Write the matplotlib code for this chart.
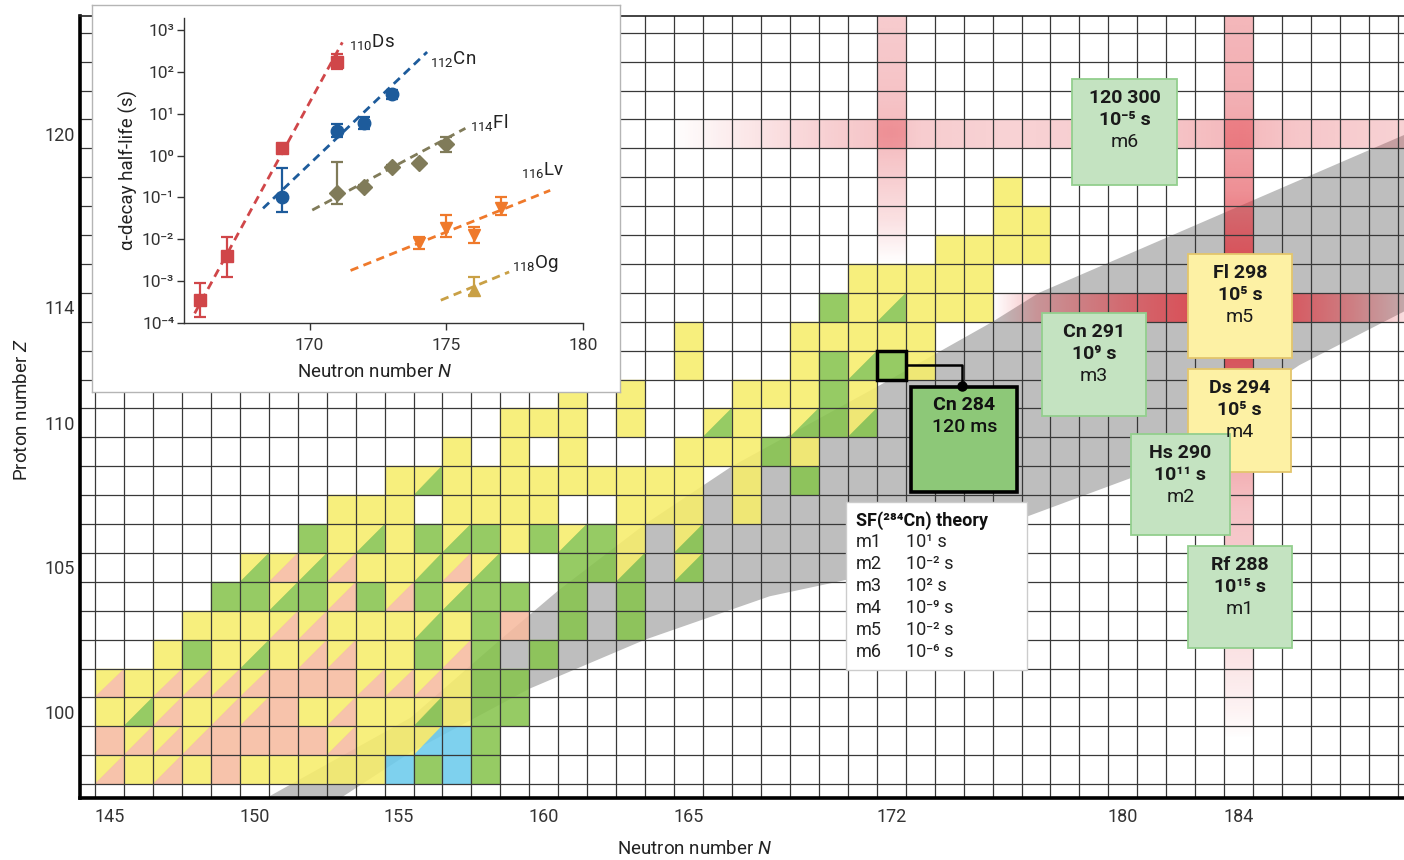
import numpy as np
import matplotlib
matplotlib.use('Agg')
import matplotlib.pyplot as plt
from matplotlib.patches import Rectangle
from matplotlib.collections import PolyCollection

plt.rcParams['font.family'] = ['Roboto', 'DejaVu Sans']
plt.rcParams['mathtext.fontset'] = 'custom'
plt.rcParams['mathtext.rm'] = 'Roboto'
plt.rcParams['mathtext.it'] = 'Roboto:italic'
plt.rcParams['mathtext.bf'] = 'Roboto:bold'

###----------------------------------###
### DATA                             ###
###----------------------------------###

# decay mode of each nuclide, row by row (Z), starting at N = row_start[Z]
# Y alpha, G spontaneous fission, S EC/beta+, B beta-, two letters = split cell, '.' = none
row_start = {98: 145, 99: 145, 100: 145, 101: 145, 102: 147, 103: 148, 104: 149,
             105: 150, 106: 152, 107: 153, 108: 155, 109: 157, 110: 159, 111: 161,
             112: 165, 113: 165, 114: 170, 115: 171, 116: 174, 117: 176, 118: 176}
row_modes = {
    98: 'YS Y YS Y S Y Y Y Y Y B G B G',
    99: 'S YS YS YS S S S S YS Y Y YB B G',
    100: 'Y YG YS Y YS YS S Y YS Y Y YG Y G G',
    101: 'YS Y YS YS YS YS S S S YS YS YS Y G G',
    102: 'Y G Y YG Y YS YS Y Y G YS G . G',
    103: 'Y Y Y YS YS Y Y Y YG Y G S . G . G',
    104: 'G G YG G YS G YS G YG G G . G . G',
    105: 'YG YS YG YS Y Y YG YS YG . . G G YG . YG',
    106: 'G Y YG Y G YG G Y G YG G Y . YG',
    107: 'Y Y Y . Y Y Y Y . . Y Y Y . Y',
    108: 'Y YG Y Y Y Y Y Y Y Y Y . Y . G',
    109: 'Y . Y . Y . . . Y Y Y G Y',
    110: 'Y Y Y . Y . . YG Y . YG G YG',
    111: 'Y . Y . . . Y Y Y G Y',
    112: 'Y . . . Y G YG G Y',
    113: 'Y . . . Y Y Y Y Y',
    114: 'G Y YG Y Y Y',
    115: 'Y Y Y Y Y',
    116: 'Y Y Y Y',
    117: 'Y Y',
    118: 'Y',
}

# grey band of predicted nuclei (edges in N, Z)
band_upper_N = [150.2, 155.4, 158.5, 160.5, 163.5, 166.5, 171.6, 175.5, 177.1, 189.8]
band_upper_Z = [96.9, 99.8, 102.5, 104.2, 106.5, 108.5, 111.3, 113.5, 114.5, 120.0]
band_lower_N = [152.8, 155.4, 159.5, 163.5, 167.8, 170.6, 176.8, 180.3, 186.1, 189.8]
band_lower_Z = [96.9, 98.6, 100.8, 102.5, 104.0, 104.6, 106.8, 108.1, 112.0, 113.9]

# predicted nuclei boxes
box_names = ['Rf 288', 'Ds 294', 'Hs 290', 'Cn 291', 'Fl 298', '120 300']
box_exps = [15, 5, 11, 9, 5, -5]
box_models = ['m1', 'm4', 'm2', 'm3', 'm5', 'm6']
box_kinds = ['G', 'Y', 'G', 'G', 'Y', 'G']

# SF(284Cn) theory
sf_models = ['m1', 'm2', 'm3', 'm4', 'm5', 'm6']
sf_exps = [1, -2, 2, -9, -2, -6]

# inset: alpha-decay half-lives (s)
ds_N = [166, 167, 169, 171]
ds_T = [3.5e-4, 4.0e-3, 1.5, 175]
ds_hi = [9.1e-4, 1.12e-2, 1.5, 275]
ds_lo = [1.4e-4, 1.23e-3, 1.5, 120]
cn_N = [169, 171, 172, 173]
cn_T = [0.10, 3.9, 6.0, 29]
cn_hi = [0.51, 5.6, 8.3, 38]
cn_lo = [0.046, 2.8, 4.3, 22]
fl_N = [171, 172, 173, 174, 175]
fl_T = [0.13, 0.18, 0.54, 0.65, 1.9]
fl_hi = [0.70, 0.20, 0.60, 0.70, 2.8]
fl_lo = [0.07, 0.16, 0.50, 0.60, 1.25]
lv_N = [174, 175, 176, 177]
lv_T = [0.008, 0.019, 0.0126, 0.057]
lv_hi = [0.0112, 0.038, 0.020, 0.10]
lv_lo = [0.006, 0.0112, 0.0083, 0.038]
og_N = [176]
og_T = [6.1e-4]
og_hi = [1.26e-3]
og_lo = [4.7e-4]

# dashed trend lines (end points)
ds_fit_N, ds_fit_T = [165.8, 171.2], [1.7e-4, 510]
cn_fit_N, cn_fit_T = [168.3, 174.3], [0.055, 300]
fl_fit_N, fl_fit_T = [170.1, 175.7], [0.050, 4.5]
lv_fit_N, lv_fit_T = [171.5, 178.8], [1.8e-3, 0.148]
og_fit_N, og_fit_T = [174.8, 177.3], [3.5e-4, 1.66e-3]

SUP = str.maketrans('0123456789-', '⁰¹²³⁴⁵⁶⁷⁸⁹⁻')

colors = {'Y': '#f7ed6b', 'G': '#88c44f', 'S': '#f6bba0', 'B': '#6ccbec'}
red = np.array([0.88, 0.20, 0.24])

###----------------------------------###
### MAIN CHART                       ###
###----------------------------------###

fig = plt.figure(figsize=(14.04, 8.6), dpi=100)
ax = fig.add_axes([80/1404, 62/860, 1324/1404, 782/860])
ax.set_xlim(143.98, 189.71)
ax.set_ylim(97.02, 124.08)

# grey band first, cells drawn over it slightly transparent
ax.fill(np.r_[band_upper_N, band_lower_N[::-1]], np.r_[band_upper_Z, band_lower_Z[::-1]],
        color='#bebebe', lw=0, zorder=1)

polys, faces = [], []
for z in row_modes:
    for i, m in enumerate(row_modes[z].split()):
        if m == '.':
            continue
        n = row_start[z] + i
        x0, x1, y0, y1 = n - 0.5, n + 0.5, z - 0.5, z + 0.5
        if len(m) == 1:
            polys.append([(x0, y0), (x1, y0), (x1, y1), (x0, y1)])
            faces.append(colors[m])
        else:
            polys.append([(x0, y0), (x0, y1), (x1, y1)])
            faces.append(colors[m[0]])
            polys.append([(x0, y0), (x1, y0), (x1, y1)])
            faces.append(colors[m[1]])
ax.add_collection(PolyCollection(polys, facecolors=faces, edgecolors=faces,
                                 linewidths=0.3, alpha=0.88, zorder=2))


# magic number glow bands
def magic_band(pos, lo, hi, knots, vals, vertical):
    t = np.linspace(lo, hi, 300)
    a = np.interp(t, knots, vals)
    img = np.zeros((300, 1, 4)) if vertical else np.zeros((1, 300, 4))
    img[..., :3] = red
    if vertical:
        img[:, 0, 3] = a
        ext = [pos - 0.5, pos + 0.5, lo, hi]
    else:
        img[0, :, 3] = a
        ext = [lo, hi, pos - 0.5, pos + 0.5]
    ax.imshow(img, extent=ext, origin='lower', aspect='auto',
              interpolation='bilinear', zorder=3)


magic_band(120, 164.0, 189.8, [164.3, 167, 170, 172, 173, 176, 180, 184, 186, 189.8],
           [0, 0.12, 0.24, 0.3, 0.25, 0.22, 0.25, 0.35, 0.28, 0.22], False)
magic_band(172, 115.0, 124.2, [115.5, 117, 119, 120, 121, 124.2],
           [0, 0.15, 0.28, 0.35, 0.3, 0.25], True)
magic_band(114, 175.0, 189.8, [175.5, 177, 180, 182.5, 184, 186, 188, 189.8],
           [0, 0.3, 0.6, 0.8, 0.85, 0.7, 0.45, 0.15], False)
magic_band(184, 98.5, 124.2, [99, 100, 104, 107, 110, 112.5, 114, 115.5, 118, 121, 124.2],
           [0, 0.06, 0.22, 0.3, 0.5, 0.8, 0.85, 0.8, 0.55, 0.4, 0.35], True)

# grid
ax.vlines(np.arange(144.5, 190, 1), 97, 124.2, color='#383838', lw=0.9, zorder=4)
ax.hlines(np.arange(97.5, 124, 1), 143.9, 190, color='#383838', lw=0.9, zorder=4)

for s in ['left', 'bottom']:
    ax.spines[s].set_linewidth(2.6)
    ax.spines[s].set_color('black')
ax.spines['top'].set_linewidth(1.2)
ax.spines['top'].set_color('#222222')
ax.spines['right'].set_visible(False)
for s in ax.spines.values():
    s.set_zorder(9)

ax.set_xticks([145, 150, 155, 160, 165, 172, 180, 184])
ax.set_yticks([100, 105, 110, 114, 120])
ax.tick_params(length=0, labelsize=13, labelcolor='#333333')
ax.tick_params(axis='x', pad=7)
ax.tick_params(axis='y', pad=4)

fig.text(695/1404, 1 - 849/860, 'Neutron number $N$', fontsize=13.5, color='#222222',
         ha='center', va='center')
fig.text(22/1404, 1 - 410/860, 'Proton number $Z$', fontsize=13.5, color='#222222',
         ha='center', va='center', rotation=90)

# predicted nuclei boxes (lower-left corner, upper-right corner)
box_pos = [(182.25, 102.21, 185.84, 105.74), (182.25, 108.30, 185.81, 111.87),
           (180.28, 106.12, 183.70, 109.62), (177.21, 110.24, 180.80, 113.81),
           (182.25, 112.25, 185.84, 115.85), (178.25, 118.24, 181.87, 121.90)]
box_fc = {'G': '#c4e3c1', 'Y': '#fdf1a4'}
box_ec = {'G': '#93cf8e', 'Y': '#e3c56c'}
for k, (x0, y0, x1, y1) in enumerate(box_pos):
    ax.add_patch(Rectangle((x0, y0), x1 - x0, y1 - y0, fc=box_fc[box_kinds[k]],
                           ec=box_ec[box_kinds[k]], lw=1.3, zorder=6 + 0.01 * k))
    xc = (x0 + x1) / 2
    zt = 6.05 + 0.01 * k
    ax.text(xc, y1 - 0.66, box_names[k], fontsize=14, fontweight='bold',
            ha='center', va='center', color='#1a1a1a', zorder=zt)
    ax.text(xc, y1 - 1.42, '10' + str(box_exps[k]).translate(SUP) + ' s', fontsize=14,
            fontweight='bold', ha='center', va='center', color='#1a1a1a', zorder=zt)
    ax.text(xc, y1 - 2.18, box_models[k], fontsize=14, ha='center', va='center',
            color='#1a1a1a', zorder=zt)

# Cn 284 highlight
ax.add_patch(Rectangle((171.5, 111.5), 1, 1, fill=False, ec='black', lw=2.5, zorder=7))
ax.plot([172.5, 174.45, 174.45], [112.02, 112.02, 111.25], color='black', lw=1.8, zorder=7)
ax.add_patch(Rectangle((172.68, 107.61), 3.67, 3.64, fc='#8dc878', ec='black', lw=2.6, zorder=7))
ax.plot([174.45], [111.27], 'o', ms=6.5, color='black', zorder=8)
ax.text(174.52, 110.62, 'Cn 284', fontsize=14, fontweight='bold', ha='center', va='center',
        color='#111111', zorder=8)
ax.text(174.52, 109.86, '120 ms', fontsize=14, fontweight='medium', ha='center', va='center',
        color='#111111', zorder=8)

# SF theory legend box
ax.add_patch(Rectangle((170.44, 101.45), 6.25, 5.82, fc='white', ec='#cccccc', lw=1, zorder=7))
ax.text(170.79, 106.61, 'SF(' + '284'.translate(SUP) + 'Cn) theory', fontsize=13,
        fontweight='bold', ha='left', va='center', color='#111111', zorder=8)
for k in range(len(sf_models)):
    zk = 105.88 - 0.76 * k
    ax.text(170.79, zk, sf_models[k], fontsize=13, ha='left', va='center',
            color='#222222', zorder=8)
    ax.text(172.51, zk, '10' + str(sf_exps[k]).translate(SUP) + ' s', fontsize=13,
            ha='left', va='center', color='#222222', zorder=8)

###----------------------------------###
### INSET                            ###
###----------------------------------###

frame = fig.add_axes([92/1404, 1 - 392/860, 528/1404, 387/860], zorder=10)
frame.set_xticks([])
frame.set_yticks([])
for s in frame.spines.values():
    s.set_color('#b5b5b5')
    s.set_linewidth(1.0)

ins = fig.add_axes([184/1404, 1 - 323/860, 399/1404, 305/860], zorder=11)
ins.patch.set_alpha(0)
ins.set_yscale('log')
ins.set_xlim(165.41, 180)
ins.set_ylim(1e-4, 10 ** 3.29)
for s in ['top', 'right']:
    ins.spines[s].set_visible(False)
for s in ['left', 'bottom']:
    ins.spines[s].set_color('#333333')
    ins.spines[s].set_linewidth(1.0)

series = [
    (ds_N, ds_T, ds_lo, ds_hi, ds_fit_N, ds_fit_T, 's', 9, '#d04649'),
    (cn_N, cn_T, cn_lo, cn_hi, cn_fit_N, cn_fit_T, 'o', 9, '#1d5b9b'),
    (fl_N, fl_T, fl_lo, fl_hi, fl_fit_N, fl_fit_T, 'D', 8, '#807b59'),
    (lv_N, lv_T, lv_lo, lv_hi, lv_fit_N, lv_fit_T, 'v', 9, '#ef792b'),
    (og_N, og_T, og_lo, og_hi, og_fit_N, og_fit_T, '^', 9, '#c9a045'),
]
for n, t, lo, hi, fn, ft, mk, ms, c in series:
    t = np.array(t)
    ins.plot(fn, ft, ls=(0, (3, 2)), lw=2, color=c, zorder=2)
    ins.errorbar(n, t, yerr=[t - np.array(lo), np.array(hi) - t], fmt=mk, ms=ms, color=c,
                 ecolor=c, elinewidth=1.6, capsize=4, capthick=1.6, zorder=3)

ins.text(171.45, 10 ** 2.71, '$_{110}$Ds', fontsize=13.5, ha='left', va='center', color='#222222')
ins.text(174.4, 10 ** 2.32, '$_{112}$Cn', fontsize=13.5, ha='left', va='center', color='#222222')
ins.text(175.85, 10 ** 0.80, '$_{114}$Fl', fontsize=13.5, ha='left', va='center', color='#222222')
ins.text(177.75, 10 ** -0.35, '$_{116}$Lv', fontsize=13.5, ha='left', va='center', color='#222222')
ins.text(177.4, 10 ** -2.57, '$_{118}$Og', fontsize=13.5, ha='left', va='center', color='#222222')

ins.set_xticks([170, 175, 180])
decades = np.arange(-4, 4)
ins.set_yticks(10.0 ** decades)
ins.set_yticklabels(['10' + str(d).translate(SUP) for d in decades])
ins.minorticks_off()
ins.tick_params(labelsize=12.5, labelcolor='#333333', color='#333333', length=5, width=1)
ins.tick_params(axis='x', pad=6)
ins.tick_params(axis='y', pad=2)

fig.text(375/1404, 1 - 372/860, 'Neutron number $N$', fontsize=13.5, color='#222222',
         ha='center', va='center', zorder=12)
fig.text(128/1404, 1 - 170/860, 'α-decay half-life (s)', fontsize=13.5, color='#222222',
         ha='center', va='center', rotation=90, zorder=12)

fig.savefig('out.png', dpi=100)
